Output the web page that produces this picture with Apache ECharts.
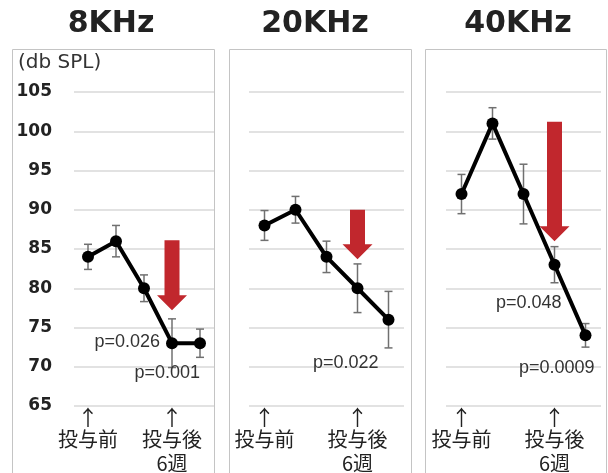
<!DOCTYPE html>
<html>
<head>
<meta charset="utf-8">
<script src="https://cdn.jsdelivr.net/npm/echarts@6/dist/echarts.min.js"></script>
<style>html,body{margin:0;padding:0;background:#fff}#c{width:608px;height:473px}</style>
</head>
<body>
<div id="c"></div>
<script>
// ---- data ----
const panelTitles = ['8KHz', '20KHz', '40KHz'];
const categories = ['投与前', '', '', '投与後\n6週', ''];
const yTicks = { min: 65, max: 105, step: 5 };
const yUnit = '(db SPL)';

const mean8 = [84, 86, 80, 73, 73];
const err8 = [1.6, 2.0, 1.7, 3.1, 1.8];
const mean20 = [88, 90, 84, 80, 76];
const err20 = [1.9, 1.7, 2.0, 3.1, 3.6];
const mean40 = [92, 101, 92, 83, 74];
const err40 = [2.5, 2.0, 3.8, 2.3, 1.5];

// red arrows: category index, start value, tip value
const arrowCat = [3, 3, 3];
const arrowFrom = [86.1, 90.0, 101.2];
const arrowTo = [77.2, 83.7, 86.0];

// p-value annotations per panel
const pText = [['p=0.026', 'p=0.001'], ['p=0.022'], ['p=0.048', 'p=0.0009']];
const pCat = [[3, 4], [4], [3, 4]];
const pAt = [[73.2, 69.2], [70.5], [78.1, 69.8]];

// ---- layout / style ----
const means = [mean8, mean20, mean40];
const errs = [err8, err20, err40];
const gridLeft = [74, 249, 446];
const gridWidth = [140, 155, 155];
const titleX = [106, 310, 513];
const panelBox = [[12.5, 202], [229.5, 182], [425.5, 181]];
const pDx = [[-12, 0], [-10], [7, 9]];

const chart = echarts.init(document.getElementById('c'), null, { renderer: 'canvas' });

const grids = [], xAxes = [], yAxes = [], series = [], titles = [];
for (let i = 0; i < 3; i++) {
  grids.push({ left: gridLeft[i], width: gridWidth[i], top: 92, height: 319, containLabel: false });
  titles.push({
    text: panelTitles[i], left: titleX[i], top: 4, textAlign: 'center',
    textStyle: { fontFamily: 'DejaVu Sans', fontWeight: 'bold', fontSize: 30, color: '#222' }
  });
  xAxes.push({
    type: 'category', gridIndex: i, data: categories, boundaryGap: true,
    axisLine: { show: false }, axisTick: { show: false }, splitLine: { show: false },
    axisLabel: {
      interval: 0, margin: 2,
      formatter: v => v ? '{a|↑}\n' + v.split('\n').map(s => '{b|' + s + '}').join('\n') : '',
      rich: {
        a: { fontFamily: 'Noto Sans CJK JP', fontSize: 21, lineHeight: 19, color: '#222' },
        b: { fontFamily: 'Noto Sans CJK JP', fontSize: 20, lineHeight: 24, color: '#222' }
      }
    }
  });
  yAxes.push({
    type: 'value', gridIndex: i, min: yTicks.min, max: yTicks.max, interval: yTicks.step,
    axisLine: { show: false }, axisTick: { show: false },
    splitLine: { lineStyle: { color: '#d9d9d9', width: 1.5 } },
    axisLabel: {
      show: i === 0, margin: 22,
      fontFamily: 'DejaVu Sans', fontWeight: 'bold', fontSize: 17, color: '#222'
    }
  });
  const m = means[i], e = errs[i];
  // error bars
  series.push({
    type: 'custom', xAxisIndex: i, yAxisIndex: i, z: 2,
    data: m.map((v, k) => [k, v - e[k], v + e[k]]),
    encode: { x: 0, y: [1, 2] },
    renderItem: (params, api) => {
      const x = api.value(0);
      const lo = api.coord([x, api.value(1)]);
      const hi = api.coord([x, api.value(2)]);
      const st = { stroke: '#707070', lineWidth: 1.5 };
      return { type: 'group', children: [
        { type: 'line', shape: { x1: lo[0], y1: lo[1], x2: hi[0], y2: hi[1] }, style: st },
        { type: 'line', shape: { x1: lo[0] - 4, y1: lo[1], x2: lo[0] + 4, y2: lo[1] }, style: st },
        { type: 'line', shape: { x1: hi[0] - 4, y1: hi[1], x2: hi[0] + 4, y2: hi[1] }, style: st }
      ]};
    }
  });
  // red arrow
  series.push({
    type: 'custom', xAxisIndex: i, yAxisIndex: i, z: 1,
    data: [[arrowCat[i], arrowFrom[i], arrowTo[i]]],
    encode: { x: 0, y: [1, 2] },
    renderItem: (params, api) => {
      const x = api.value(0);
      const top = api.coord([x, api.value(1)]);
      const tip = api.coord([x, api.value(2)]);
      const cx = top[0], sw = 7.5, hw = 15, hh = 15;
      const sb = tip[1] - hh;
      return { type: 'polygon', shape: { points: [
        [cx - sw, top[1]], [cx + sw, top[1]], [cx + sw, sb], [cx + hw, sb],
        [cx, tip[1]], [cx - hw, sb], [cx - sw, sb]
      ]}, style: { fill: '#c1272d' } };
    }
  });
  // main line
  series.push({
    type: 'line', xAxisIndex: i, yAxisIndex: i, z: 3, data: m,
    symbol: 'circle', symbolSize: 12,
    lineStyle: { color: '#000', width: 4 }, itemStyle: { color: '#000' }
  });
  // p-value labels
  series.push({
    type: 'custom', xAxisIndex: i, yAxisIndex: i, z: 4,
    data: pCat[i].map((c, k) => [c, pAt[i][k]]),
    encode: { x: 0, y: 1 },
    renderItem: (params, api) => {
      const p = api.coord([api.value(0), api.value(1)]);
      const k = params.dataIndex;
      return { type: 'text', x: p[0] + pDx[i][k], y: p[1], style: {
        text: pText[i][k], textAlign: 'right', textVerticalAlign: 'middle',
        font: '18px "Liberation Sans", Arial, sans-serif', fill: '#333'
      }};
    }
  });
}

const graphics = panelBox.map(b => ({
  type: 'rect', shape: { x: b[0], y: 49.5, width: b[1], height: 440 },
  style: { fill: 'none', stroke: '#c4c4c4', lineWidth: 1 }, z: -1, silent: true
}));
graphics.push({
  type: 'text', left: 18, top: 53,
  style: { text: yUnit, font: '20px "DejaVu Sans"', fill: '#333' }
});

chart.setOption({
  animation: false,
  backgroundColor: '#fff',
  title: titles,
  grid: grids, xAxis: xAxes, yAxis: yAxes, series: series,
  graphic: graphics
});
</script>
</body>
</html>
